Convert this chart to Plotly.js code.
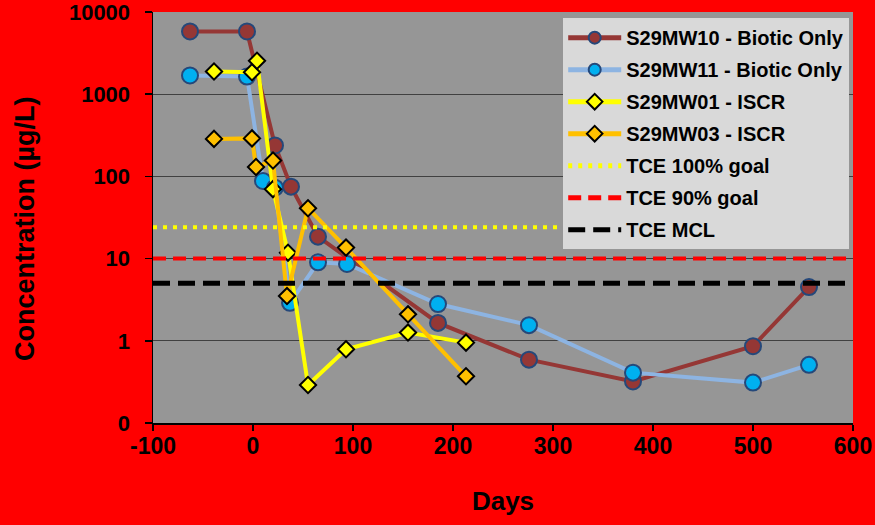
<!DOCTYPE html>
<html>
<head>
<meta charset="utf-8">
<script src="https://cdn.plot.ly/plotly-3.0.1.min.js"></script>
<style>
  html, body { margin: 0; padding: 0; background: #FF0000; }
  #chart { width: 875px; height: 525px; }
</style>
</head>
<body>
<div id="chart"></div>
<script>
// Monitoring well TCE concentrations (µg/L) versus days from treatment
const mw10Days = [-63, -6, 22, 38, 65, 185, 276, 380, 500, 556];
const mw10Conc = [5800, 5800, 238, 75, 18.5, 1.65, 0.59, 0.32, 0.86, 4.5];

const mw11Days = [-63, -6, 10, 22, 37, 65, 94, 185, 276, 380, 500, 556];
const mw11Conc = [1690, 1640, 88, 73, 2.9, 9.0, 8.6, 2.8, 1.55, 0.41, 0.31, 0.51];

const mw01Days = [-39, -1, 4, 20, 35, 55, 93, 155, 213];
const mw01Conc = [1890, 1850, 2550, 70, 11.8, 0.29, 0.79, 1.26, 0.95];

const mw03Days = [-39, -1, 3, 20, 34, 55, 93, 155, 213];
const mw03Conc = [286, 290, 130, 156, 3.5, 41, 13.6, 2.1, 0.37];

// Reference levels drawn across the whole time span
const refSpan = [-100, 600];
const goal100 = 24;
const goal90 = 10;
const mcl = 5;

const yTickVals = [0.1, 1, 10, 100, 1000, 10000];
const yTickText = ['0', '1', '10', '100', '1000', '10000'];
const xTickVals = [-100, 0, 100, 200, 300, 400, 500, 600];
const xTickText = ['-100', '0', '100', '200', '300', '400', '500', '600'];

const FONT = 'Liberation Sans, Arial, sans-serif';

function series(name, x, y, lineColor, marker, group) {
  return {
    type: 'scatter', mode: 'lines+markers', name: name,
    x: x, y: y, legendgroup: group,
    line: { color: lineColor, width: 4 },
    marker: marker,
    hoverinfo: 'skip'
  };
}

function refLine(name, level, color, width, dash, group) {
  return {
    type: 'scatter', mode: 'lines', name: name,
    x: refSpan, y: [level, level], legendgroup: group,
    line: { color: color, width: width, dash: dash },
    hoverinfo: 'skip'
  };
}

const circleEdge = { color: '#25487A', width: 2 };
const diamondEdge = { color: '#000000', width: 2 };

const traces = [
  series('S29MW10 - Biotic Only', mw10Days, mw10Conc, '#953735',
    { symbol: 'circle', size: 16, color: '#953735', line: circleEdge }, 'a'),
  series('S29MW11 - Biotic Only', mw11Days, mw11Conc, '#8DB4E2',
    { symbol: 'circle', size: 16, color: '#00B0F0', line: circleEdge }, 'b'),
  series('S29MW01 - ISCR', mw01Days, mw01Conc, '#FFFF00',
    { symbol: 'diamond', size: 12.5, color: '#FFFF00', line: diamondEdge }, 'c'),
  series('S29MW03 - ISCR', mw03Days, mw03Conc, '#FFC000',
    { symbol: 'diamond', size: 12.5, color: '#FFC000', line: diamondEdge }, 'd'),
  refLine('TCE 100% goal', goal100, '#FFFF00', 4, '4px,6px', 'e'),
  refLine('TCE 90% goal', goal90, '#FF0000', 4, '13px,7px', 'f'),
  refLine('TCE MCL', mcl, '#000000', 5, '17px,8px', 'g')
];

const layout = {
  width: 875, height: 525,
  paper_bgcolor: '#FF0000',
  plot_bgcolor: '#969696',
  font: { family: FONT, color: '#000000', weight: 'bold' },
  margin: { l: 153, r: 22, t: 12, b: 102, pad: 0 },
  showlegend: true,
  legend: {
    x: 0.586, y: 0.985, xanchor: 'left', yanchor: 'top',
    bgcolor: '#D9D9D9', borderwidth: 0,
    font: { family: FONT, size: 20, color: '#000000', weight: 'bold' },
    traceorder: 'grouped', tracegroupgap: 3, itemwidth: 53,
    itemsizing: 'constant'
  },
  xaxis: {
    range: [-100, 600],
    tickvals: xTickVals, ticktext: xTickText,
    ticks: 'outside', ticklen: 6, tickwidth: 1.5, tickcolor: '#000000',
    ticklabelstandoff: -4, ticklabeloverflow: 'allow',
    showline: true, linecolor: '#000000', linewidth: 1.5,
    showgrid: false, zeroline: false,
    tickfont: { family: FONT, size: 23, color: '#000000', weight: 'bold' },
    title: { text: 'Days', font: { family: FONT, size: 26, color: '#000000', weight: 'bold' }, standoff: 33 }
  },
  yaxis: {
    type: 'log',
    range: [-1, 4],
    tickvals: yTickVals, ticktext: yTickText,
    ticks: 'outside', ticklen: 7, tickwidth: 1.5, tickcolor: '#000000',
    ticklabelstandoff: 10, ticklabeloverflow: 'allow',
    showline: true, linecolor: '#000000', linewidth: 1.5,
    showgrid: true, gridcolor: '#404040', gridwidth: 1.3,
    zeroline: false,
    tickfont: { family: FONT, size: 22, color: '#000000', weight: 'bold' }
  },
  annotations: [{
    text: 'Concentration (µg/L)', textangle: -90,
    xref: 'paper', yref: 'paper', x: -0.183, y: 0.474,
    xanchor: 'center', yanchor: 'middle', showarrow: false,
    font: { family: FONT, size: 27, color: '#000000', weight: 'bold' }
  }]
};

Plotly.newPlot('chart', traces, layout, { staticPlot: true, displayModeBar: false });
</script>
</body>
</html>
